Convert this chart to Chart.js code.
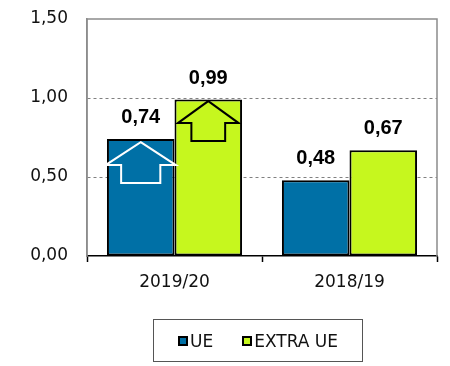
<!DOCTYPE html>
<html>
<head>
<meta charset="utf-8">
<script src="https://cdn.jsdelivr.net/npm/chart.js@4.4.0/dist/chart.umd.min.js"></script>
<style>
  body { margin: 0; background: #fff; }
  #quadro { position: relative; width: 450px; height: 366px; }
  #legenda {
    position: absolute; left: 153px; top: 319px; width: 208px; height: 41px;
    border: 1px solid #555; display: flex; align-items: center; justify-content: center;
    font: 17px "DejaVu Sans", sans-serif; color: #111;
  }
  .item { display: flex; align-items: center; }
  .item + .item { margin-left: 29px; }
  .quad { width: 6px; height: 6px; border: 2px solid #000; margin-right: 2px; }
</style>
</head>
<body>
<div id="quadro">
  <canvas id="grafico" width="450" height="366"></canvas>
  <div id="legenda"></div>
</div>
<script>
// --- dados ---
const categorias = ["2019/20", "2018/19"];
const series = ["UE", "EXTRA UE"];
const valoresUE = [0.74, 0.48];
const valoresExtraUE = [0.99, 0.67];
const ticksY = [0, 0.5, 1.0, 1.5];

const cores = ["#0070A6", "#C6F71E"];
const corSeta = ["#FFFFFF", "#000000"];

const fmt = (v) => v.toFixed(2).replace(".", ",");

// moldura cinza da área do gráfico (topo e direita)
const moldura = {
  id: "moldura",
  beforeDatasetsDraw(chart) {
    const { ctx, chartArea: a } = chart;
    ctx.save();
    ctx.strokeStyle = "#8C8C8C";
    ctx.lineWidth = 1.5;
    ctx.beginPath();
    ctx.moveTo(a.left, a.bottom);
    ctx.lineTo(a.left, a.top);
    ctx.lineTo(a.right, a.top);
    ctx.lineTo(a.right, a.bottom);
    ctx.stroke();
    ctx.restore();
  },
};

// setas de crescimento dentro das barras do primeiro período
const setas = {
  id: "setas",
  afterDatasetsDraw(chart) {
    const ctx = chart.ctx;
    const formas = [
      { tip: 3, base: 26, fundo: 44, cab: 0.52, haste: 0.29 },
      { tip: 1.5, base: 23.5, fundo: 41.5, cab: 0.45, haste: 0.25 },
    ];
    formas.forEach((f, i) => {
      const bar = chart.getDatasetMeta(i).data[0];
      const cx = bar.x, w = bar.width, y = bar.y;
      const hc = w * f.cab, hh = w * f.haste;
      ctx.save();
      ctx.strokeStyle = corSeta[i];
      ctx.lineWidth = 2;
      ctx.lineJoin = "miter";
      ctx.beginPath();
      ctx.moveTo(cx, y + f.tip);
      ctx.lineTo(cx + hc, y + f.base);
      ctx.lineTo(cx + hh, y + f.base);
      ctx.lineTo(cx + hh, y + f.fundo);
      ctx.lineTo(cx - hh, y + f.fundo);
      ctx.lineTo(cx - hh, y + f.base);
      ctx.lineTo(cx - hc, y + f.base);
      ctx.closePath();
      ctx.stroke();
      ctx.restore();
    });
  },
};

// rótulos de valor acima das barras
const rotulos = {
  id: "rotulos",
  afterDatasetsDraw(chart) {
    const ctx = chart.ctx;
    ctx.save();
    ctx.font = "bold 20px 'Liberation Sans', Arial, sans-serif";
    ctx.fillStyle = "#000";
    ctx.textAlign = "center";
    ctx.textBaseline = "alphabetic";
    chart.data.datasets.forEach((ds, i) => {
      chart.getDatasetMeta(i).data.forEach((bar, j) => {
        ctx.fillText(fmt(ds.data[j]), bar.x, bar.y - 16);
      });
    });
    ctx.restore();
  },
};

new Chart(document.getElementById("grafico"), {
  type: "bar",
  data: {
    labels: categorias,
    datasets: [
      { label: series[0], data: valoresUE, backgroundColor: cores[0] },
      { label: series[1], data: valoresExtraUE, backgroundColor: cores[1] },
    ],
  },
  options: {
    responsive: false,
    animation: false,
    layout: { padding: { left: 0, top: 19, right: 13, bottom: 70 } },
    datasets: {
      bar: {
        borderColor: "#000",
        borderWidth: 2,
        borderSkipped: false,
        categoryPercentage: 0.772,
        barPercentage: 1.0,
      },
    },
    plugins: { legend: { display: false }, tooltip: { enabled: false } },
    scales: {
      x: {
        afterFit: (s) => { s.height = 40; },
        grid: {
          offset: true,
          drawOnChartArea: false,
          drawTicks: true,
          tickLength: 6,
          tickColor: "#000",
          tickWidth: 1.5,
        },
        border: { color: "#000", width: 1.5 },
        ticks: {
          color: "#111",
          padding: 10,
          font: { family: "DejaVu Sans", size: 17 },
        },
      },
      y: {
        min: 0,
        max: 1.5,
        // largura fixa e sem folga extra em cima/embaixo
        afterFit: (s) => { s.width = 87; s.paddingTop = 0; s.paddingBottom = 0; },
        afterBuildTicks: (s) => { s.ticks = ticksY.map((v) => ({ value: v })); },
        grid: {
          drawTicks: false,
          color: (c) => (c.tick && c.tick.value > 0 && c.tick.value < 1.5 ? "#808080" : "rgba(0,0,0,0)"),
          lineWidth: 1,
        },
        border: { color: "#8C8C8C", width: 1.5, dash: [3, 3] },
        ticks: {
          color: "#111",
          padding: 19,
          font: { family: "DejaVu Sans", size: 17 },
          callback: (v) => fmt(v),
        },
      },
    },
  },
  plugins: [moldura, setas, rotulos],
});

// legenda em caixa
const legenda = document.getElementById("legenda");
series.forEach((nome, i) => {
  const item = document.createElement("div");
  item.className = "item";
  const q = document.createElement("span");
  q.className = "quad";
  q.style.background = cores[i];
  const t = document.createElement("span");
  t.textContent = nome;
  item.appendChild(q);
  item.appendChild(t);
  legenda.appendChild(item);
});
</script>
</body>
</html>
